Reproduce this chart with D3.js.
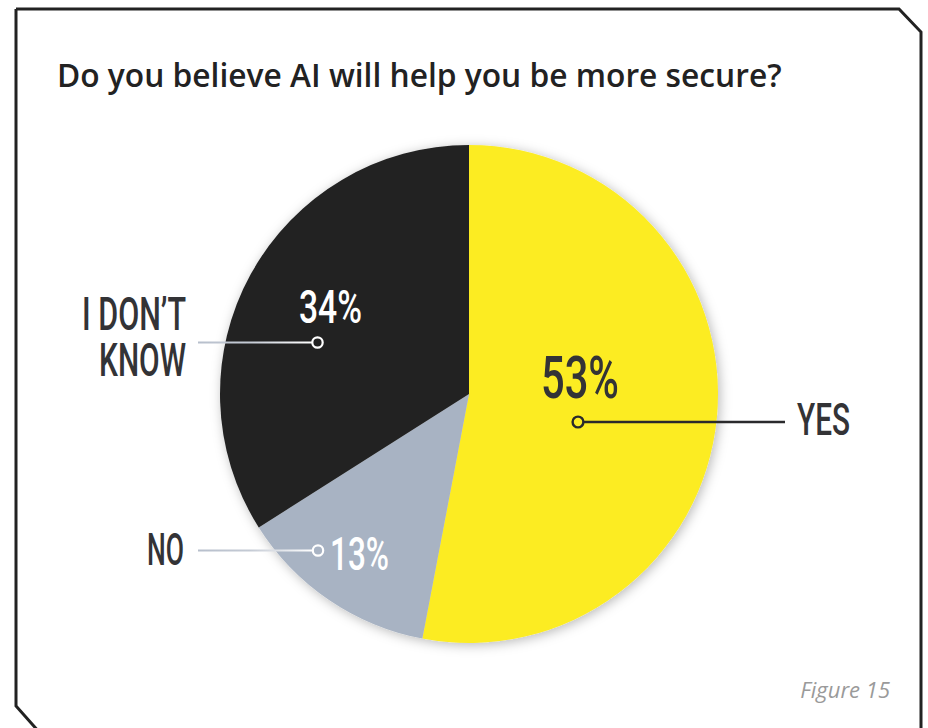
<!DOCTYPE html>
<html>
<head>
<meta charset="utf-8">
<script src="https://cdn.jsdelivr.net/npm/d3@7"></script>
<style>
  html, body { margin: 0; padding: 0; background: #fff; }
  svg { display: block; }
</style>
</head>
<body>
<script>
// Survey answers, clockwise from 12 o'clock
const categories = ["YES", "NO", "I DON\u2019T KNOW"];
const values = [53, 13, 34];
const sliceColors = ["#fcec24", "#a8b3c3", "#222222"];
const title = "Do you believe AI will help you be more secure?";
const caption = "Figure 15";

const W = 928, H = 728;
const cx = 469, cy = 394, R = 249;

const svg = d3.select("body").append("svg")
  .attr("width", W).attr("height", H);

const defs = svg.append("defs");
const glow = defs.append("filter").attr("id", "pieShadow")
  .attr("x", "-20%").attr("y", "-20%").attr("width", "140%").attr("height", "140%");
glow.append("feDropShadow")
  .attr("dx", 2).attr("dy", 2).attr("stdDeviation", 6)
  .attr("flood-color", "#000").attr("flood-opacity", 0.28);

// Leader line that fades from grey-blue to white, in user space
function fadeGradient(id, x1, x2) {
  const gr = defs.append("linearGradient").attr("id", id)
    .attr("gradientUnits", "userSpaceOnUse")
    .attr("x1", x1).attr("x2", x2).attr("y1", 0).attr("y2", 0);
  gr.append("stop").attr("offset", "0%").attr("stop-color", "#b7bfcc");
  gr.append("stop").attr("offset", "45%").attr("stop-color", "#c4cad4");
  gr.append("stop").attr("offset", "100%").attr("stop-color", "#ffffff");
}

// Frame with clipped corners (top-right and bottom-left)
const frame = d3.path();
frame.moveTo(16, 9);
frame.lineTo(899, 9);
frame.lineTo(921, 32);
frame.lineTo(921, H + 5);
frame.moveTo(40, H + 5);
frame.lineTo(16, 706);
frame.lineTo(16, 9);
svg.append("path").attr("d", frame.toString())
  .attr("fill", "none").attr("stroke", "#222").attr("stroke-width", 3)
  .attr("stroke-linejoin", "miter");

// Title, sized to span its column
const titleText = svg.append("text")
  .attr("x", 57).attr("y", 87)
  .attr("font-family", "'Open Sans', sans-serif")
  .attr("font-weight", 600).attr("font-size", 30)
  .attr("fill", "#222")
  .text(title);
const tw = titleText.node().getComputedTextLength();
titleText.attr("font-size", 30 * 725 / tw);

// Pie
const pie = d3.pie().sort(null).value(d => d.v);
const arc = d3.arc().innerRadius(0).outerRadius(R);
const rows = categories.map((c, i) => ({ c, v: values[i], col: sliceColors[i] }));

const g = svg.append("g").attr("transform", `translate(${cx},${cy})`);
g.append("g").attr("filter", "url(#pieShadow)")
  .selectAll("path").data(pie(rows)).join("path")
  .attr("d", arc).attr("fill", d => d.data.col);

// Condensed label helper: glyphs squeezed into a given width
function label(x, y, txt, size, width, color, anchor) {
  return svg.append("text")
    .attr("x", x).attr("y", y)
    .attr("text-anchor", anchor || "start")
    .attr("font-family", "Roboto, sans-serif")
    .attr("font-weight", 500)
    .attr("font-size", size)
    .attr("textLength", width)
    .attr("lengthAdjust", "spacingAndGlyphs")
    .attr("fill", color)
    .text(txt);
}

const pct = v => `${v}%`;

// YES
label(541, 398, pct(values[0]), 59, 78, "#333336");
svg.append("line")
  .attr("x1", 584).attr("x2", 785).attr("y1", 422).attr("y2", 422)
  .attr("stroke", "#2a2a2c").attr("stroke-width", 2.4);
svg.append("circle").attr("cx", 578).attr("cy", 422).attr("r", 5.4)
  .attr("fill", "#fcec24").attr("stroke", "#2a2a2c").attr("stroke-width", 2.4);
label(797, 435, categories[0], 45, 53, "#333336");

// I DON'T KNOW
fadeGradient("fadeDK", 198, 312);
svg.append("line")
  .attr("x1", 198).attr("x2", 312).attr("y1", 342.5).attr("y2", 342.5)
  .attr("stroke", "url(#fadeDK)").attr("stroke-width", 2.2);
svg.append("circle").attr("cx", 317.5).attr("cy", 342.5).attr("r", 5.2)
  .attr("fill", "#222").attr("stroke", "#fff").attr("stroke-width", 2.2);
const dk = svg.append("text")
  .attr("text-anchor", "end")
  .attr("font-family", "Roboto, sans-serif")
  .attr("font-weight", 500)
  .attr("font-size", 46)
  .attr("fill", "#333336");
dk.append("tspan").attr("x", 186).attr("y", 330)
  .attr("textLength", 104).attr("lengthAdjust", "spacingAndGlyphs")
  .text("I DON\u2019T");
dk.append("tspan").attr("x", 186).attr("y", 376)
  .attr("textLength", 87).attr("lengthAdjust", "spacingAndGlyphs")
  .text("KNOW");
label(299, 323, pct(values[2]), 46, 63, "#ffffff");

// NO
fadeGradient("fadeNO", 198, 313);
svg.append("line")
  .attr("x1", 198).attr("x2", 313).attr("y1", 550.5).attr("y2", 550.5)
  .attr("stroke", "url(#fadeNO)").attr("stroke-width", 2.2);
svg.append("circle").attr("cx", 318).attr("cy", 550.5).attr("r", 5.2)
  .attr("fill", "#a8b3c3").attr("stroke", "#fff").attr("stroke-width", 2.2);
label(184, 565, categories[1], 45, 37, "#333336", "end");
label(330, 570, pct(values[1]), 47, 59, "#ffffff");

// Caption
svg.append("text")
  .attr("x", 890).attr("y", 698)
  .attr("text-anchor", "end")
  .attr("font-family", "'Open Sans', sans-serif")
  .attr("font-style", "italic")
  .attr("font-size", 22)
  .attr("fill", "#9a9a9a")
  .text(caption);
</script>
</body>
</html>
